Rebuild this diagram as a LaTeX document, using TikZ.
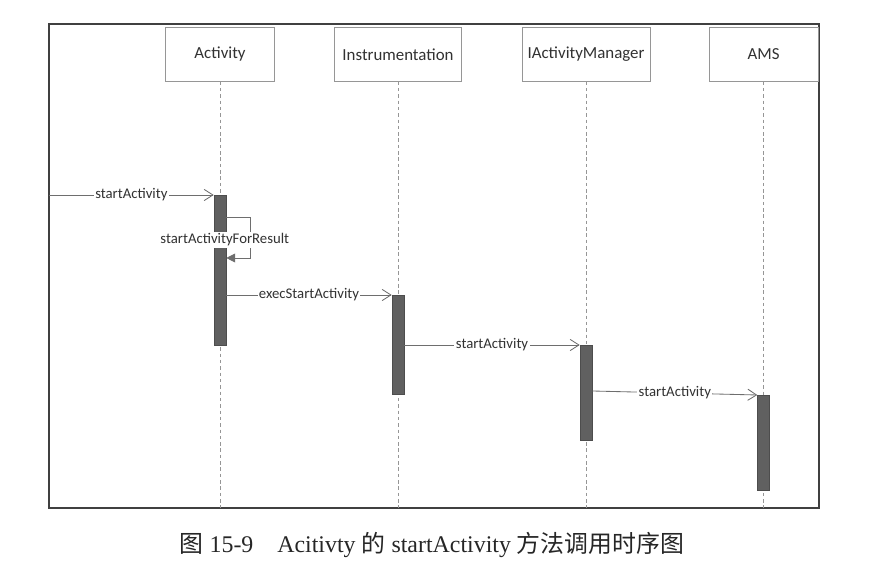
\documentclass[tikz,border=0pt]{standalone}
\usepackage{fontspec}
\setmainfont{Liberation Serif}
\newfontfamily\diagfont{Carlito}
\newfontfamily\cjk{Noto Sans CJK SC}
\usepackage{tikz}
\usetikzlibrary{calc}
\usetikzlibrary{positioning}
\usetikzlibrary{arrows.meta}

\definecolor{boxline}{RGB}{150,150,150}
\definecolor{barfill}{RGB}{96,96,96}
\definecolor{msgline}{RGB}{110,110,110}
\definecolor{txt}{RGB}{50,50,50}

\tikzset{
  objbox/.style={rectangle, draw=boxline, fill=white, minimum height=1.35cm, anchor=north, text=txt, font=\diagfont\fontsize{12}{14}\selectfont},
  actbar/.style={rectangle, draw=barfill!80!black, fill=barfill, minimum width=0.3cm, anchor=north, inner sep=0pt},
  lifeline/.style={boxline, dash pattern=on 2.5pt off 2pt, line width=0.5pt},
  msg/.style={msgline, line width=0.6pt, -{Straight Barb[length=2.2mm, width=2.8mm]}},
  selfmsg/.style={msgline, line width=0.6pt, -{Triangle[length=2.2mm, width=2.2mm]}},
  msglabel/.style={fill=white, inner sep=1pt, text=txt, font=\diagfont\fontsize{10.5}{12}\selectfont}
}

\begin{document}
\begin{tikzpicture}

\useasboundingbox (0,0) rectangle (21.975,14.475);

%\draw[step=1cm, gray, very thin, dotted] (0,0) grid (22,14);

% frame
\draw[black!75, line width=0.8pt] (1.225,1.775) rectangle (20.475,13.875);
\coordinate (caller) at (1.225,9.6);
\coordinate (bottom) at (0,1.775);

% objects
\node at (5.5,13.8) [objbox, minimum width=2.725cm] (activity) {Activity};
\node at (9.95,13.8) [objbox, minimum width=3.175cm] (instr) {Instrumentation};
\node at (14.65,13.8) [objbox, minimum width=3.2cm] (iam) {IActivityManager};
\node at (19.09,13.8) [objbox, minimum width=2.725cm] (ams) {AMS};

% lifelines
\draw[lifeline] (activity.south) -- (activity.south |- bottom);
\draw[lifeline] (instr.south) -- (instr.south |- bottom);
\draw[lifeline] (iam.south) -- (iam.south |- bottom);
\draw[lifeline] (ams.south) -- (ams.south |- bottom);

% activation bars
\node at (5.5,9.6) [actbar, minimum height=3.75cm] (activitybar) {};
\node at (9.95,7.1) [actbar, minimum height=2.475cm] (instrbar) {};
\node at (14.65,5.85) [actbar, minimum height=2.375cm] (iambar) {};
\node at (19.09,4.6) [actbar, minimum height=2.375cm] (amsbar) {};

% messages
\draw[msg] (caller) -- node[msglabel] {startActivity} (activitybar.north west);

\coordinate (loopout) at ($(activitybar.north east)+(0,-0.55)$);
\coordinate (loopin) at ($(activitybar.north east)+(0,-1.575)$);
\draw[selfmsg] (loopout) -- ++(0.6,0) |- (loopin);
\node at (5.62,8.475) [msglabel] (forresult) {startActivityForResult};

\draw[msg] (activitybar.east |- instrbar.north) -- node[msglabel] {execStartActivity} (instrbar.north west);
\draw[msg] (instrbar.east |- iambar.north) -- node[msglabel] {startActivity} (iambar.north west);
\draw[msg] ($(iambar.east |- amsbar.north)+(0,0.1)$) -- node[msglabel] {startActivity} (amsbar.north west);

% caption
\node at (10.8,0.85) [font=\fontsize{17}{20}\selectfont, text=black!85] (caption) {{\cjk 图} 15-9\quad Acitivty {\cjk 的} startActivity {\cjk 方法调用时序图}};

\end{tikzpicture}
\end{document}
